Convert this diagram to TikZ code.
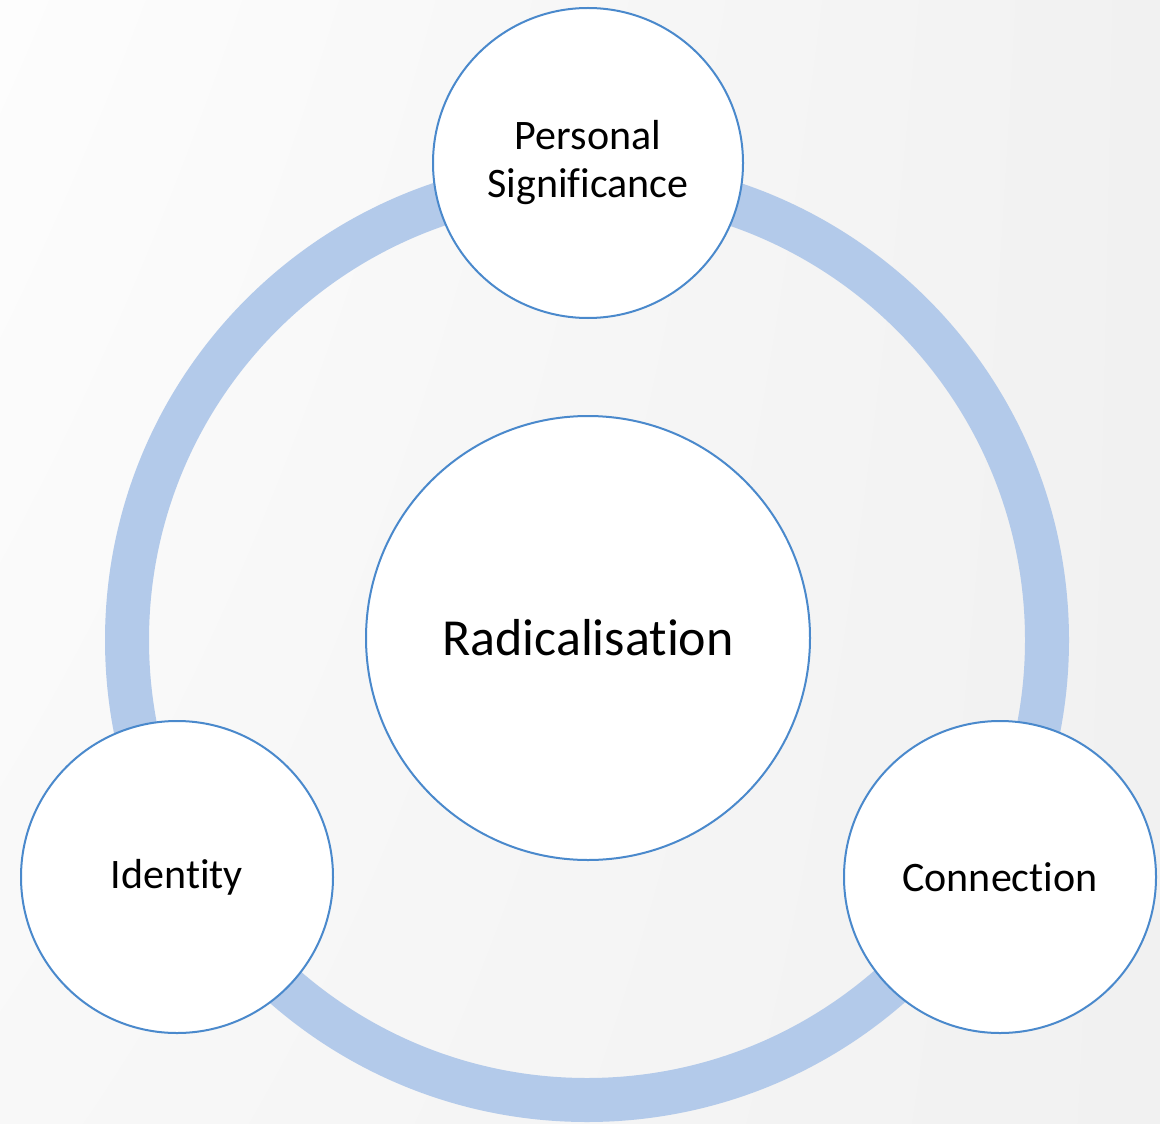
\documentclass[tikz,border=0pt]{standalone}
\usetikzlibrary{shadings}
\usepackage{fontspec}
\setmainfont{Carlito}[RawFeature={-liga}]
\definecolor{ringblue}{HTML}{B3CAEA}
\definecolor{edgeblue}{HTML}{4A89CC}
\definecolor{bgA}{HTML}{FDFDFD}
\definecolor{bgB}{HTML}{F1F1F1}
\definecolor{bgC}{HTML}{F8F8F8}
\begin{document}
\begin{tikzpicture}[x=0.5pt,y=-0.5pt,
  bubble/.style={circle,draw=edgeblue,line width=1pt,fill=white,inner sep=0pt,align=center,
    font=\fontsize{21}{24}\selectfont},
  ringstyle/.style={draw=ringblue,line width=22pt}]
\useasboundingbox (0,0) rectangle (1160,1123);
\shade[upper left=bgA,upper right=bgB,lower left=bgC,lower right=bgB] (0,0) rectangle (1160,1123);
\coordinate (ctr) at (587,640);
\draw[ringstyle] (ctr) circle[radius=230pt];
\node[bubble,minimum size=222pt,font=\fontsize{26}{30}\selectfont] (rad) at (588,638) {Radicalisation};
\node[bubble,minimum size=155pt] (ps) at (588,163) {Personal\\Significance};
\node[bubble,minimum size=156pt] (id) at (177,877) {Identity};
\node[bubble,minimum size=156pt] (con) at (1000,877) {Connection};
\end{tikzpicture}
\end{document}
